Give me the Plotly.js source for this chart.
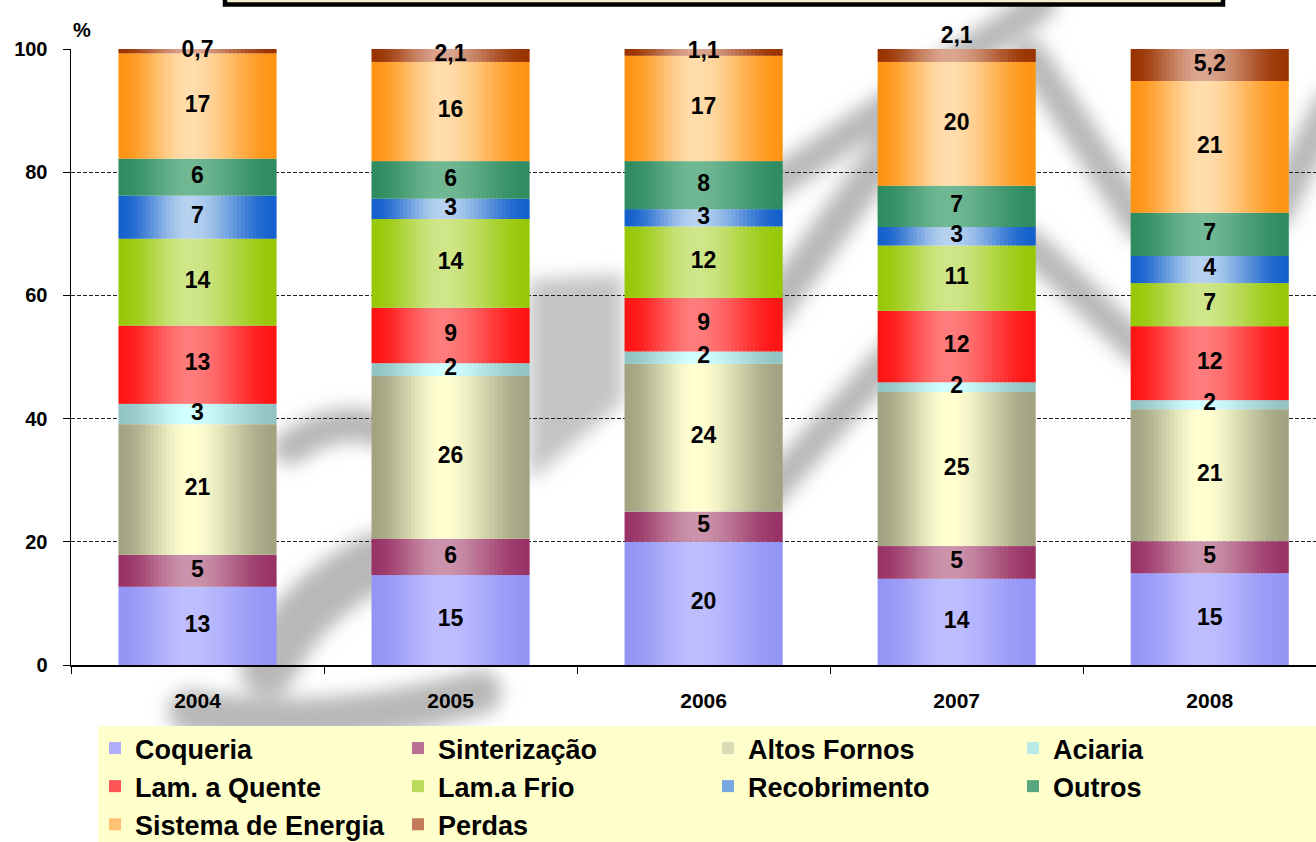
<!DOCTYPE html>
<html>
<head>
<meta charset="utf-8">
<script src="https://cdn.plot.ly/plotly-3.0.1.min.js"></script>
<style>
  html, body { margin: 0; padding: 0; background: #fff; overflow: hidden; }
  #chart { width: 1316px; height: 842px; }
</style>
</head>
<body>
<div id="chart"></div>
<script>
// Energy consumption share by process area, 2004-2008 (%)
const years = ['2004', '2005', '2006', '2007', '2008'];
const seriesNames = ['Coqueria', 'Sinterização', 'Altos Fornos', 'Aciaria', 'Lam. a Quente',
                     'Lam.a Frio', 'Recobrimento', 'Outros', 'Sistema de Energia', 'Perdas'];

const coqueria       = [12.7, 14.6, 20.0, 14.0, 14.9];
const sinterizacao   = [5.2, 5.9, 4.9, 5.3, 5.2];
const altosFornos    = [21.2, 26.4, 24.0, 25.0, 21.4];
const aciaria        = [3.3, 2.1, 2.0, 1.6, 1.5];
const lamQuente      = [12.7, 9.0, 8.7, 11.6, 12.0];
const lamFrio        = [14.1, 14.4, 11.6, 10.6, 7.0];
const recobrimento   = [7.0, 3.3, 2.8, 3.0, 4.4];
const outros         = [6.0, 6.1, 7.8, 6.7, 7.0];
const sistemaEnergia = [17.1, 16.1, 17.1, 20.1, 21.4];
const perdas         = [0.7, 2.1, 1.1, 2.1, 5.2];

const seriesValues = [coqueria, sinterizacao, altosFornos, aciaria, lamQuente,
                      lamFrio, recobrimento, outros, sistemaEnergia, perdas];
const labelDecimals = [0, 0, 0, 0, 0, 0, 0, 0, 0, 1];

// legend columns (entries read row by row across four columns)
const legendOfSeries = ['legend', 'legend2', 'legend3', 'legend4', 'legend',
                        'legend2', 'legend3', 'legend4', 'legend', 'legend2'];

// cylinder-style shading: edge colour -> light centre -> edge colour
const edgeColors   = ['#9494F6', '#993366', '#A3A382', '#93C4C4', '#FF1414',
                      '#97C808', '#1460CC', '#2F8C60', '#FF9414', '#9A3300'];
const centerColors = ['#BEBEFF', '#CC94AC', '#FFFFD2', '#D2FFFF', '#FF7C7C',
                      '#CFE68A', '#B6D2F0', '#70B894', '#FFDDAC', '#DBA690'];

const W = 1316, H = 842;
const M = { l: 71, r: 0, t: 49, b: 177, autoexpand: false };
const PW = W - M.l - M.r, PH = H - M.t - M.b;
const px = v => (v - M.l) / PW;          // page x -> paper x
const py = v => (H - M.b - v) / PH;      // page y -> paper y

function hexToRgb(h) {
  const n = parseInt(h.slice(1), 16);
  return [(n >> 16) & 255, (n >> 8) & 255, n & 255];
}
function mix(a, b, t) {
  const A = hexToRgb(a), B = hexToRgb(b);
  return 'rgb(' + A.map((c, i) => Math.round(c + (B[i] - c) * t)).join(',') + ')';
}
function shade(u) {
  const c = 0.45;
  const d = Math.abs(u - c) / (u < c ? c : 1 - c);
  const s = Math.max(0, 1 - d);
  return s * s * (3 - 2 * s);
}

const barWidth = 0.625;
const strips = 40;
const step = barWidth / strips;

const traces = [];
const cumulative = years.map(() => 0);
const bases = [];
seriesValues.forEach((vals) => {
  bases.push(cumulative.slice());
  vals.forEach((v, i) => { cumulative[i] += v; });
});

seriesValues.forEach((vals, si) => {
  for (let k = 0; k < strips; k++) {
    const u = (k + 0.5) / strips;
    const col = mix(edgeColors[si], centerColors[si], shade(u));
    traces.push({
      type: 'bar',
      x: years,
      y: vals,
      base: bases[si],
      offset: -barWidth / 2 + k * step,
      width: k === strips - 1 ? step : step * 1.3,
      marker: { color: col, line: { width: 0 } },
      name: seriesNames[si],
      legend: legendOfSeries[si],
      legendgroup: seriesNames[si],
      showlegend: k === Math.round(strips * 0.25),
      hoverinfo: 'skip'
    });
  }
});

// value labels centred in each segment
seriesValues.forEach((vals, si) => {
  const isTop = si === seriesValues.length - 1;
  const ys = vals.map((v, i) => (isTop && i === 3) ? bases[si][i] + v : bases[si][i] + v / 2);
  traces.push({
    type: 'scatter',
    mode: 'text',
    x: years,
    y: ys,
    text: vals.map(v => labelDecimals[si] ? v.toFixed(labelDecimals[si]).replace('.', ',')
                                          : String(Math.round(v))),
    textposition: vals.map((v, i) => (isTop && i === 3) ? 'top center' : 'middle center'),
    textfont: { family: 'Liberation Sans, Arial, sans-serif', size: 23, color: '#000', weight: 'bold' },
    cliponaxis: false,
    showlegend: false,
    hoverinfo: 'skip'
  });
});

// faint grey logo watermark behind the plot
const wmStrokes = [
  ['M190,712 Q320,736 480,692', 44],
  ['M290,448 Q340,412 385,432', 34],
  ['M268,668 Q300,600 378,560', 56],
  ['M758,330 L895,140', 36],
  ['M758,505 L895,352', 32],
  ['M765,190 L1040,5', 32],
  ['M1030,55 L1140,225', 32],
  ['M1030,245 L1140,350', 32],
  ['M1275,215 L1330,105', 32]
];
const wmFills = [
  'M529,280 L623,274 L623,402 L529,482 Z'
];
const wmSvg = "<svg xmlns='http://www.w3.org/2000/svg' width='" + W + "' height='" + H +
  "' viewBox='0 0 " + W + " " + H + "'><defs><filter id='b' x='-20%' y='-20%' width='140%' height='140%'>" +
  "<feGaussianBlur stdDeviation='9'/></filter></defs><g filter='url(#b)'>" +
  "<g fill='none' stroke='#b8b8b8' stroke-linecap='round'>" +
  wmStrokes.map(s => "<path d='" + s[0] + "' stroke-width='" + s[1] + "'/>").join('') + "</g>" +
  "<g fill='#c4c4c4' stroke='none'>" + wmFills.map(d => "<path d='" + d + "'/>").join('') + "</g>" +
  "</g></svg>";

function legendColumn(left) {
  return {
    orientation: 'v',
    x: px(left),
    xanchor: 'left',
    y: py(724),
    yanchor: 'top',
    bgcolor: 'rgba(0,0,0,0)',
    borderwidth: 0,
    font: { family: 'Liberation Sans, Arial, sans-serif', size: 27, weight: 'bold', color: '#000' },
    traceorder: 'normal',
    tracegroupgap: 3,
    itemwidth: 30,
    itemclick: false,
    itemdoubleclick: false
  };
}

const layout = {
  width: W,
  height: H,
  margin: M,
  paper_bgcolor: '#fff',
  plot_bgcolor: 'rgba(0,0,0,0)',
  barmode: 'overlay',
  font: { family: 'Liberation Sans, Arial, sans-serif', color: '#000' },
  xaxis: {
    type: 'category',
    range: [-0.5, 4.42],
    showline: true,
    linecolor: '#000',
    linewidth: 1.5,
    ticks: 'outside',
    tickson: 'boundaries',
    ticklen: 7,
    tickcolor: '#000',
    tickwidth: 1,
    ticklabelstandoff: 16,
    tickfont: { size: 21, weight: 'bold' },
    showgrid: false,
    zeroline: false,
    fixedrange: true
  },
  yaxis: {
    range: [0, 100],
    tickvals: [0, 20, 40, 60, 80, 100],
    showline: true,
    linecolor: '#000',
    linewidth: 1.5,
    ticks: 'outside',
    ticklen: 7,
    tickcolor: '#000',
    ticklabelstandoff: 11,
    tickfont: { size: 20, weight: 'bold' },
    showgrid: true,
    gridcolor: '#222',
    gridwidth: 1,
    griddash: '4px,2px',
    zeroline: false,
    fixedrange: true
  },
  legend: legendColumn(95),
  legend2: legendColumn(398),
  legend3: legendColumn(708),
  legend4: legendColumn(1013),
  shapes: [
    // legend panel
    { type: 'rect', xref: 'paper', yref: 'paper', x0: px(98), x1: px(1330), y0: py(860), y1: py(726),
      fillcolor: '#FFFFCC', line: { width: 0 }, layer: 'below' },
    // lower edge of the heading box
    { type: 'rect', xref: 'paper', yref: 'paper', x0: px(225), x1: px(1223), y0: py(4.5), y1: py(-30),
      fillcolor: '#F4F0CC', line: { color: '#000', width: 4.5 }, layer: 'above' }
  ],
  images: [
    { source: 'data:image/svg+xml;charset=utf-8,' + encodeURIComponent(wmSvg),
      xref: 'paper', yref: 'paper', x: px(0), y: py(0), sizex: W / PW, sizey: H / PH,
      xanchor: 'left', yanchor: 'top', sizing: 'stretch', layer: 'below', opacity: 1 }
  ],
  annotations: [
    { text: '%', xref: 'paper', yref: 'paper', x: px(82), y: py(30), showarrow: false,
      font: { size: 20, weight: 'bold', color: '#000' }, xanchor: 'center', yanchor: 'middle' }
  ],
  showlegend: true
};

Plotly.newPlot('chart', traces, layout, { displayModeBar: false, staticPlot: true });
</script>
</body>
</html>
